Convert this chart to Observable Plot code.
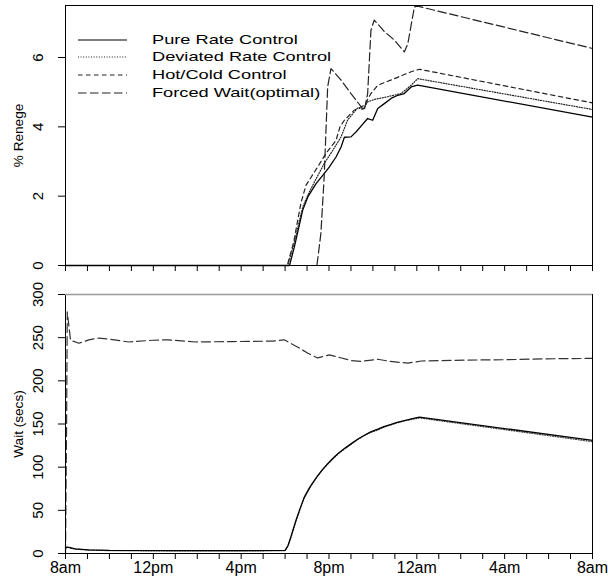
<!DOCTYPE html>
<html>
<head>
<meta charset="utf-8">
<script src="https://cdn.jsdelivr.net/npm/d3@7"></script>
<script src="https://cdn.jsdelivr.net/npm/@observablehq/plot@0.6"></script>
<style>
  html, body { margin: 0; padding: 0; background: white; }
  #wrap { position: relative; width: 608px; height: 576px; font-family: "Liberation Sans", Arial, sans-serif; }
  #wrap svg { display: block; }
  .leg-row { position: absolute; left: 0; height: 16px; width: 400px; }
  .leg-row svg { position: absolute; left: 78px; top: 3px; }
  .leg-row span { position: absolute; left: 152px; top: 0; font-size: 13px; line-height: 16px; white-space: nowrap;
                  transform: scaleX(1.4); transform-origin: left center; color: #000; }
</style>
</head>
<body>
<div id="wrap"></div>
<script>
// ---- data (hours after 8am, value) ----
const seriesNames = ["Pure Rate Control", "Deviated Rate Control", "Hot/Cold Control", "Forced Wait(optimal)"];

// % Renege
const pureRenege = [[0,0],[10.2,0],[10.42,0.53],[10.80,1.59],[11.03,1.97],[11.41,2.36],[11.78,2.65],[12.01,2.84],[12.32,3.13],[12.55,3.42],[12.70,3.70],[13.00,3.71],[13.23,3.85],[13.46,4.02],[13.76,4.24],[13.99,4.19],[14.22,4.53],[14.52,4.67],[14.83,4.82],[15.13,4.91],[15.43,4.96],[15.74,5.15],[16.04,5.20],[24,4.28]];
const deviatedRenege = [[0,0],[10.12,0],[10.40,0.62],[10.80,1.68],[11.05,2.05],[11.33,2.40],[11.78,2.94],[12.17,3.32],[12.55,3.71],[12.85,4.20],[13.31,4.55],[13.55,4.50],[13.76,4.72],[14.06,4.79],[14.68,4.87],[15.28,4.96],[15.74,5.20],[16.04,5.39],[24,4.50]];
const hotColdRenege = [[0,0],[10.1,0],[10.40,0.70],[10.72,1.80],[10.95,2.31],[11.48,2.84],[11.86,3.23],[12.32,3.61],[12.50,4.00],[12.70,4.19],[13.15,4.48],[13.61,4.62],[13.91,4.96],[14.22,5.20],[14.98,5.39],[15.74,5.59],[16.12,5.66],[24,4.69]];
const forcedRenege = [[0,0],[11.45,0],[11.63,0.92],[11.78,2.55],[11.94,5.16],[12.09,5.68],[12.55,5.35],[13.00,4.96],[13.46,4.58],[13.61,4.48],[13.76,4.96],[13.91,6.79],[14.06,7.08],[14.52,6.75],[14.98,6.50],[15.43,6.16],[15.59,6.40],[15.89,7.46],[16.04,7.48],[24,6.26]];

// Wait (secs)
const pureWait = [[0,7],[0.1,7.3],[0.45,5.4],[1.05,4.3],[2,3.6],[5,3.3],[8,3.3],[10.0,3.6],[10.13,9],[10.26,18.9],[10.49,38],[10.68,52],[10.87,65],[11.03,72.5],[11.18,79],[11.48,90],[11.71,97.5],[11.94,104],[12.17,110],[12.40,115.5],[12.70,121.5],[13.00,127],[13.30,132.3],[13.61,137],[13.90,140.8],[14.22,144],[14.50,147],[14.83,149.5],[15.10,152],[15.43,154],[15.80,156.3],[16.12,158],[24,131]];
const deviatedWait = [[0,6],[0.1,7],[0.45,5],[1.05,4],[2,3.3],[5,3],[8,3],[10.0,3.3],[10.13,8.5],[10.26,18],[10.49,37],[10.68,51],[10.87,64],[11.03,71.5],[11.18,78.5],[11.48,89.5],[11.71,97],[11.94,103.5],[12.17,109.5],[12.40,115],[12.70,121],[13.00,126.5],[13.30,131.8],[13.61,136.5],[13.90,140.3],[14.22,143],[14.50,146.3],[14.83,149],[15.10,151.3],[15.43,153.5],[15.80,155.5],[16.12,157],[24,129.5]];
const forcedWait = [[0,0],[0.05,150],[0.08,280],[0.23,247],[0.61,243.5],[1.06,247.5],[1.52,249.5],[1.98,248.3],[2.87,245],[3.97,247],[4.65,247.5],[5.93,245],[7.66,245.5],[9.44,246],[9.96,247.5],[10.54,239.5],[11.04,232],[11.48,226.5],[12.01,230],[12.48,227],[13.0,223.5],[13.46,222.5],[14.22,225],[14.78,222.5],[15.59,220.5],[16.20,223],[18.33,224],[20.12,224.5],[21.9,225.5],[24,226]];

// ticks
const hourTicks = d3.range(0, 25);
const xLabelTicks = [0, 4, 8, 12, 16, 20, 24];
const xLabels = ["8am", "12pm", "4pm", "8pm", "12am", "4am", "8am"];
const yTicksTop = [0, 2, 4, 6];
const yTicksBottom = [0, 50, 100, 150, 200, 250, 300];

// ---- styles ----
const dash = {solid: null, dotted: "1,1.6", short: "4.5,3.5", long: "8.5,3.5"};
const font = "'Liberation Sans', Arial, sans-serif";
const blank = () => "";

const common = {
  width: 608,
  marginLeft: 65,
  marginRight: 16,
  style: {fontFamily: font, fontSize: "15px", background: "white", overflow: "visible", color: "black"}
};

const line = (data, dashArray, extra = {}) =>
  Plot.line(data, {x: d => d[0], y: d => d[1], stroke: "black", strokeWidth: 1.2, strokeDasharray: dashArray, ...extra});

const yLabels = (ticks) =>
  Plot.text(ticks, {y: d => d, text: d => String(d), frameAnchor: "left", textAnchor: "middle", lineAnchor: "middle", dx: -27, rotate: -90, fontSize: 15});
const yTitle = (title) =>
  Plot.text([title], {frameAnchor: "left", textAnchor: "middle", lineAnchor: "middle", dx: -47, rotate: -90, fontSize: 13.6});

// ---- top panel ----
const topChart = Plot.plot({
  ...common,
  height: 280,
  marginTop: 5,
  marginBottom: 15,
  x: {domain: [0, 24], ticks: hourTicks, tickSize: 6, tickFormat: blank, label: null},
  y: {domain: [0, 7.5], ticks: yTicksTop, tickSize: 7, tickFormat: blank, label: null},
  marks: [
    line(pureRenege, dash.solid, {strokeWidth: 1.3}),
    line(deviatedRenege, dash.dotted, {stroke: "#222"}),
    line(hotColdRenege, dash.short, {stroke: "#222"}),
    line(forcedRenege, dash.long, {stroke: "#222"}),
    Plot.frame({stroke: "black"}),
    yLabels(yTicksTop),
    yTitle("% Renege")
  ]
});

// ---- bottom panel ----
const bottomChart = Plot.plot({
  ...common,
  height: 296,
  marginTop: 14,
  marginBottom: 23,
  x: {domain: [0, 24], ticks: hourTicks, tickSize: 6, tickFormat: blank, label: null},
  y: {domain: [0, 300], ticks: yTicksBottom, tickSize: 7, tickFormat: blank, label: null},
  marks: [
    line(deviatedWait, dash.dotted, {stroke: "#444"}),
    line(pureWait, dash.solid, {strokeWidth: 1.3}),
    line(forcedWait, "9,4", {stroke: "#333"}),
    Plot.frame({stroke: "black"}),
    Plot.ruleY([300], {stroke: "#999", strokeWidth: 1.5}),
    yLabels(yTicksBottom),
    Plot.text(xLabelTicks, {x: d => d, text: (d, i) => xLabels[i], frameAnchor: "bottom", dy: 14, lineAnchor: "middle", fontSize: 16}),
    yTitle("Wait (secs)")
  ]
});

const wrap = document.getElementById("wrap");
wrap.appendChild(topChart);
wrap.appendChild(bottomChart);

// ---- legend (overlay inside top panel) ----
const legendDash = [dash.solid, dash.dotted, dash.short, dash.long];
const legendRowsY = [39.5, 57.3, 75, 93];
seriesNames.forEach((name, i) => {
  const row = document.createElement("div");
  row.className = "leg-row";
  row.style.top = (legendRowsY[i] - 8) + "px";
  const da = legendDash[i] ? ` stroke-dasharray="${legendDash[i]}"` : "";
  row.innerHTML = `<svg width="50" height="10"><line x1="0" x2="49" y1="5" y2="5" stroke="${i === 0 ? "#000" : "#222"}" stroke-width="1.2"${da}/></svg><span>${name}</span>`;
  wrap.appendChild(row);
});
</script>
</body>
</html>
